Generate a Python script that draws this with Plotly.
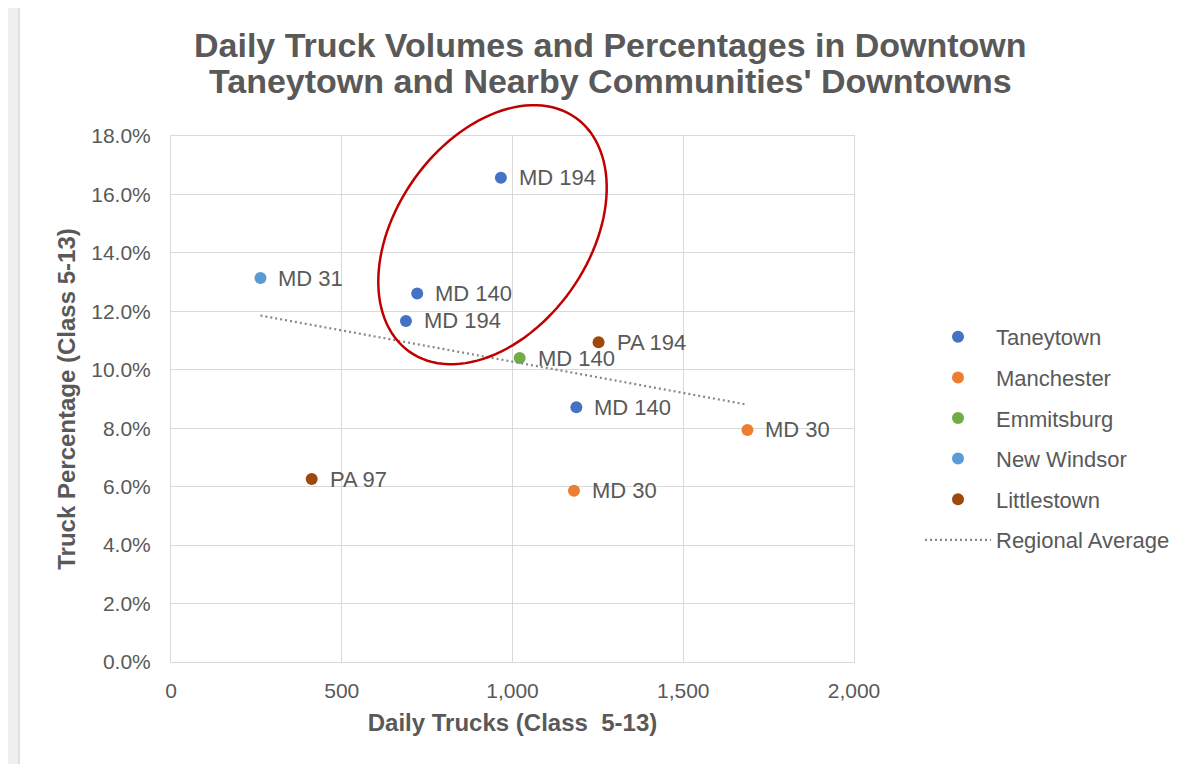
import numpy as np
import plotly.graph_objects as go

# ---- data ----
towns = ["Taneytown", "Manchester", "Emmitsburg", "New Windsor", "Littlestown"]
town_colors = ["#4472C4", "#ED7D31", "#70AD47", "#5B9BD5", "#9E480E"]

taneytown_trucks = [966, 721, 688, 1187]
taneytown_pct = [16.57, 12.61, 11.67, 8.72]
taneytown_routes = ["MD 194", "MD 140", "MD 194", "MD 140"]

manchester_trucks = [1688, 1180]
manchester_pct = [7.94, 5.86]
manchester_routes = ["MD 30", "MD 30"]

emmitsburg_trucks = [1021]
emmitsburg_pct = [10.40]
emmitsburg_routes = ["MD 140"]

new_windsor_trucks = [262]
new_windsor_pct = [13.14]
new_windsor_routes = ["MD 31"]

littlestown_trucks = [1252, 412]
littlestown_pct = [10.94, 6.26]
littlestown_routes = ["PA 194", "PA 97"]

x_tickvals = [0, 500, 1000, 1500, 2000]
y_tickvals = [0, 0.02, 0.04, 0.06, 0.08, 0.10, 0.12, 0.14, 0.16, 0.18]

title_lines = ["Daily Truck Volumes and Percentages in Downtown",
               "Taneytown and Nearby Communities' Downtowns"]

series = [
    (taneytown_trucks, taneytown_pct, taneytown_routes),
    (manchester_trucks, manchester_pct, manchester_routes),
    (emmitsburg_trucks, emmitsburg_pct, emmitsburg_routes),
    (new_windsor_trucks, new_windsor_pct, new_windsor_routes),
    (littlestown_trucks, littlestown_pct, littlestown_routes),
]

FONT = "Liberation Sans, Arial, sans-serif"
TXT = "#595959"

# page has an 8px body margin; geometry below is in figure pixels
OFF = 8
W, H = 1188, 756
L, R, T, B = 171 - OFF, 854 - OFF, 136 - OFF, 662 - OFF


def to_paper(px, py):
    return (px - L) / (R - L), (B - py) / (B - T)


fig = go.Figure()
annotations = []
for name, color, (xs, ys, labels) in zip(towns, town_colors, series):
    yfrac = [v / 100 for v in ys]
    fig.add_trace(go.Scatter(
        x=xs, y=yfrac, mode="markers", name=name,
        marker=dict(color=color, size=12),
        legendgroup=name,
    ))
    for xv, yv, lab in zip(xs, yfrac, labels):
        annotations.append(dict(
            x=xv, y=yv, xref="x", yref="y", text=lab, showarrow=False,
            xanchor="left", yanchor="middle", xshift=16,
            font=dict(family=FONT, size=22, color=TXT),
        ))

# Regional average: linear trend over all points
all_x = np.concatenate([np.array(s[0], float) for s in series])
all_y = np.concatenate([np.array(s[1], float) / 100 for s in series])
slope, intercept = np.polyfit(all_x, all_y, 1)
tx = np.array([all_x.min(), all_x.max()])
fig.add_trace(go.Scatter(
    x=tx, y=slope * tx + intercept, mode="lines", name="Regional Average",
    line=dict(color="#888888", width=2.2, dash="2px,3px"),
    legendgroup="Regional Average",
))

# title lines
for line, cy in zip(title_lines, [45 - OFF, 81 - OFF]):
    xp, yp = to_paper(610 - OFF, cy)
    annotations.append(dict(
        x=xp, y=yp, xref="paper", yref="paper", text=f"<b>{line}</b>",
        showarrow=False, xanchor="center", yanchor="middle",
        font=dict(family=FONT, size=34, color=TXT),
    ))

# ellipse highlight (pixel geometry -> paper coords)
cx, cy, a, b, th = 492.5 - OFF, 234.7 - OFF, 143.5, 96.1, np.radians(54.6)
t = np.linspace(0, 2 * np.pi, 121)
px = cx + a * np.cos(t) * np.cos(th) - b * np.sin(t) * np.sin(th)
py = cy - (a * np.cos(t) * np.sin(th) + b * np.sin(t) * np.cos(th))
xp, yp = to_paper(px, py)
path = "M " + " L ".join(f"{u:.5f},{v:.5f}" for u, v in zip(xp, yp)) + " Z"

# white chart area frame
fx0, fy1 = to_paper(19 - OFF, 5 - OFF)
fx1, fy0 = to_paper(W + 10, H + 10)

shapes = [
    dict(type="rect", xref="paper", yref="paper", x0=fx0, x1=fx1, y0=fy0, y1=fy1,
         fillcolor="white", line=dict(color="#d6d6d6", width=1.5), layer="below"),
    dict(type="path", xref="paper", yref="paper", path=path,
         line=dict(color="#C00000", width=2.5), fillcolor="rgba(0,0,0,0)"),
]

axis_common = dict(
    showgrid=True, gridcolor="#d9d9d9", gridwidth=1,
    showline=True, linecolor="#d9d9d9", linewidth=1, mirror=True,
    zeroline=False, ticks="", fixedrange=True,
    tickfont=dict(family=FONT, size=21, color=TXT),
)

lx, ly = to_paper(920 - OFF, 316 - OFF)

fig.update_layout(
    width=W, height=H,
    margin=dict(l=L, r=W - R, t=T, b=H - B, autoexpand=False),
    paper_bgcolor="#f0f0f0", plot_bgcolor="white",
    font=dict(family=FONT, color=TXT),
    xaxis=dict(
        range=[0, 2000], tickvals=x_tickvals, tickformat=",",
        ticklabelstandoff=10,
        title=dict(text="Daily Trucks (Class  5-13)", standoff=12,
                   font=dict(family=FONT, size=24, color=TXT, weight="bold")),
        **axis_common,
    ),
    yaxis=dict(
        range=[0, 0.18], tickvals=y_tickvals, tickformat=".1%",
        ticklabelstandoff=15,
        title=dict(text="Truck Percentage (Class 5-13)", standoff=8,
                   font=dict(family=FONT, size=24, color=TXT, weight="bold")),
        **axis_common,
    ),
    legend=dict(
        x=lx, xanchor="left", y=ly, yanchor="top",
        font=dict(family=FONT, size=22, color=TXT),
        tracegroupgap=9, itemwidth=66,
        bgcolor="rgba(0,0,0,0)",
    ),
    annotations=annotations,
    shapes=shapes,
    showlegend=True,
)

fig.write_html("out.html")
